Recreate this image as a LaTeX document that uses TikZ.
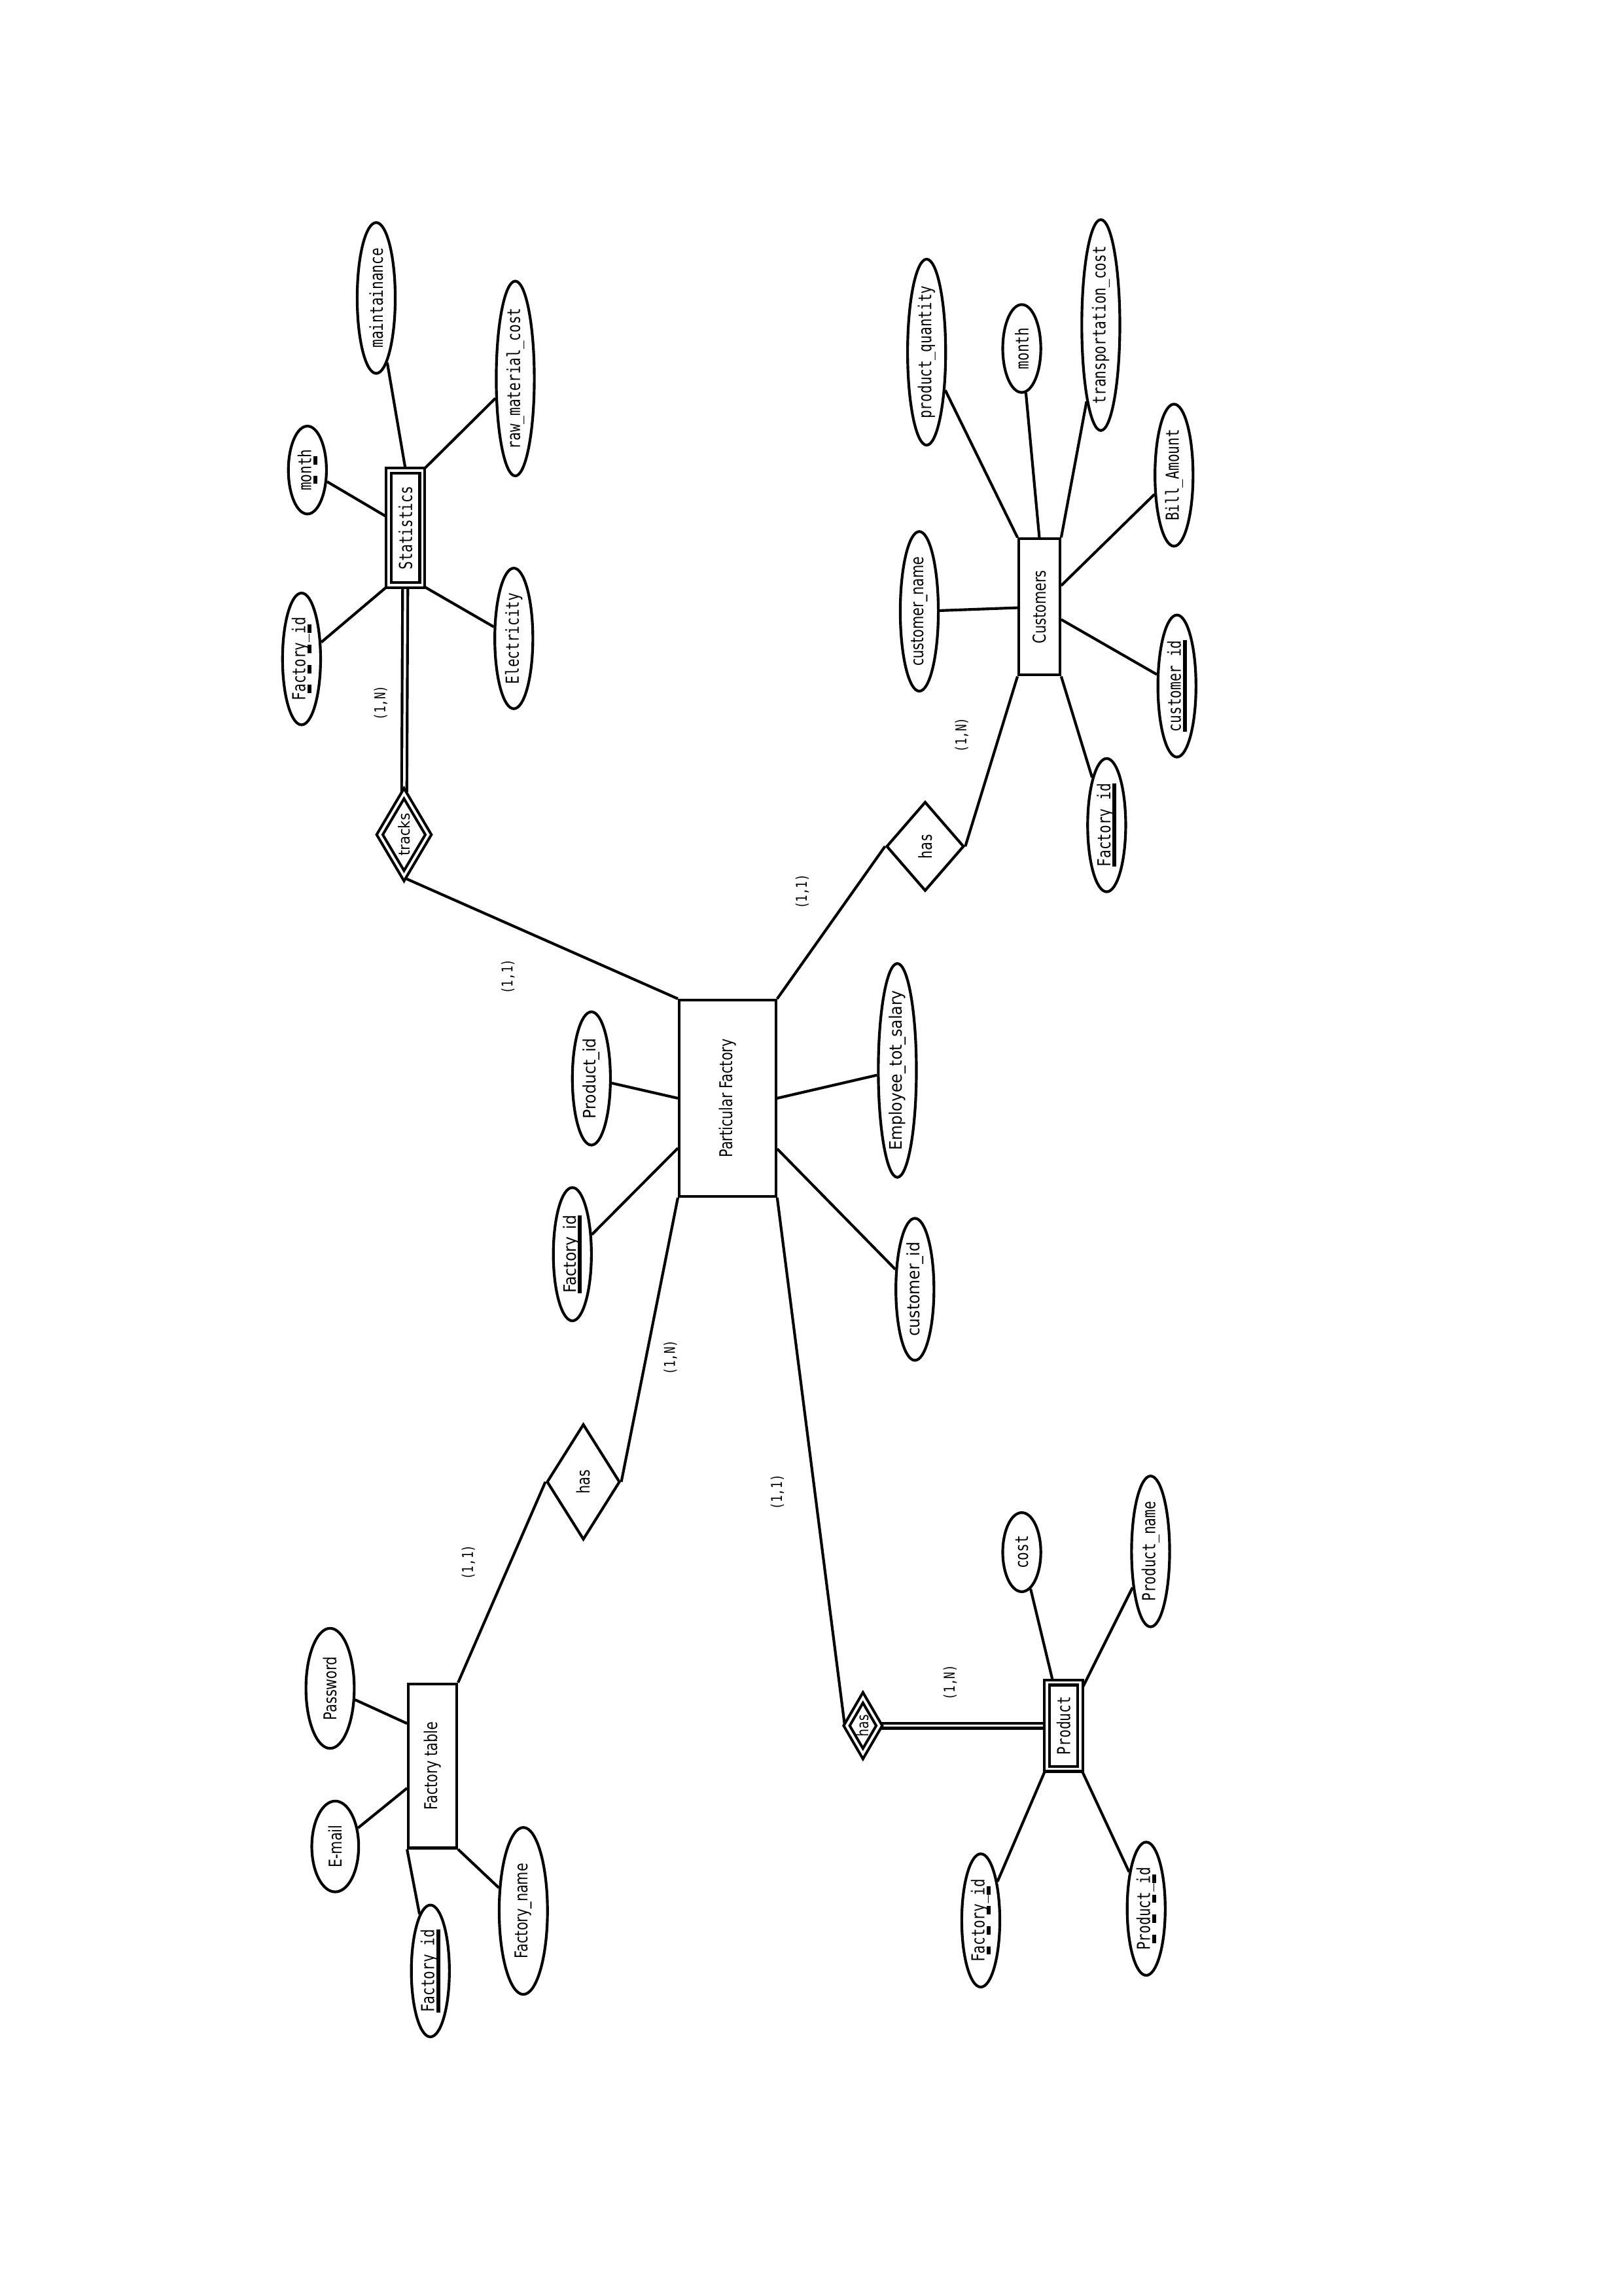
\documentclass[tikz,border=0pt]{standalone}
\usepackage{fontspec}
\usetikzlibrary{shapes.geometric, backgrounds}
\newfontfamily\monof[FakeStretch=0.77]{DejaVu Sans Mono}
\newfontfamily\condf[FakeStretch=0.77]{DejaVu Sans}
\newfontfamily\widef[FakeStretch=0.9]{DejaVu Sans}
\newsavebox\ulbox
\newcommand{\vtext}[1]{\rotatebox{90}{#1}}
\newcommand{\keyul}[1]{\sbox\ulbox{#1}\usebox\ulbox
  \llap{\vrule width \wd\ulbox height -0.12em depth 0.34em}}
\newcommand{\pkeyul}[1]{\sbox\ulbox{#1}\usebox\ulbox
  \llap{\hbox to \wd\ulbox{\xleaders\hbox to .94em{\hss\vrule height -0.12em depth 0.34em width .47em\hss}\hfill}}}
\tikzset{
  sz/.style 2 args={minimum width=#1*0.18936mm, minimum height=#2*0.18936mm},
  attr/.style={
    ellipse, draw, line width=1pt, inner sep=-20pt,
    font=\monof\fontsize{6.6}{7}\selectfont
  },
  ent/.style={
    rectangle, draw, line width=1pt, inner sep=-20pt,
    font=\monof\fontsize{6.6}{7}\selectfont
  },
  went/.style={ent, double, double distance=0.9pt},
  rel/.style={
    diamond, draw, line width=1pt, inner sep=-20pt,
    font=\monof\fontsize{6.6}{7}\selectfont
  },
  wrel/.style={rel, double, double distance=0.9pt},
  cond/.style={font=\condf\fontsize{6.5}{7}\selectfont},
  wide/.style={font=\widef\fontsize{6.3}{7}\selectfont},
  card/.style={inner sep=0pt, font=\monof\fontsize{5.5}{6}\selectfont},
  link/.style={line width=1pt},
  dlink/.style={line width=1pt, double, double distance=0.9pt}
}

\begin{document}
\begin{tikzpicture}[x=0.018936cm, y=-0.018936cm]
\useasboundingbox (0,0) rectangle (1109,1568);

\begin{scope}
\clip (0,149) rectangle (1109,1568);

% Statistics (weak entity)
\node[went, sz={23}{78}] (stat) at (277,360.5) {\vtext{Statistics}};
\node[wrel, sz={34}{57}, font=\widef\fontsize{5.7}{6}\selectfont] (tracks) at (276,570) {\vtext{tracks}};
\node[attr, sz={26}{103}] (maint) at (257,203.5) {\vtext{maintainance}};
\node[attr, sz={26}{133}] (rawcost) at (352,258.5) {\vtext{raw\_material\_cost}};
\node[attr, sz={26}{60}] (smonth) at (210,321) {\vtext{\pkeyul{month}}};
\node[attr, sz={26}{90}] (sfid) at (206,450) {\vtext{\pkeyul{Factory\_id}}};
\node[attr, sz={26}{96}] (elec) at (351,436) {\vtext{Electricity}};

% Customers
\node[ent, cond, sz={28}{93}] (cust) at (710,414.5) {\vtext{Customers}};
\node[rel, sz={53}{61}] (chas) at (632,578) {\vtext{has}};
\node[attr, sz={26}{127}] (pqty) at (633,240.5) {\vtext{product\_quantity}};
\node[attr, sz={26}{60}] (cmonth) at (698,238) {\vtext{month}};
\node[attr, sz={26}{144}] (tcost) at (752,222) {\vtext{transportation\_cost}};
\node[attr, sz={26}{97}] (bill) at (802,324.5) {\vtext{Bill\_Amount}};
\node[attr, sz={26}{97}] (ccid) at (804,468.5) {\vtext{\keyul{customer\_id}}};
\node[attr, sz={26}{91}] (cfid) at (756,563.5) {\vtext{\keyul{Factory\_id}}};
\node[attr, cond, sz={26}{109}] (cname) at (628,417.5) {\vtext{customer\_name}};

% Particular Factory
\node[ent, cond, sz={66}{134}] (pf) at (497,750) {\vtext{Particular Factory}};
\node[attr, wide, sz={26}{91}] (pfpid) at (404,736.5) {\vtext{Product\_id}};
\node[attr, wide, sz={26}{91}] (pffid) at (391,856.5) {\vtext{\keyul{Factory\_id}}};
\node[attr, wide, sz={26}{146}] (salary) at (613,731) {\vtext{Employee\_tot\_salary}};
\node[attr, wide, sz={26}{97}] (pfcid) at (625,880.5) {\vtext{customer\_id}};

% Factory table
\node[rel, cond, sz={50}{79}] (fhas) at (398.5,1012) {\vtext{has}};
\node[ent, cond, sz={33}{112}] (ftab) at (295.5,1206) {\vtext{Factory table}};
\node[attr, cond, sz={33}{82}] (pwd) at (225.5,1153) {\vtext{Password}};
\node[attr, cond, sz={32}{62}] (email) at (229,1261) {\vtext{E-mail}};
\node[attr, sz={26}{90}] (ftfid) at (294,1346) {\vtext{\keyul{Factory\_id}}};
\node[attr, cond, sz={33}{114}] (fname) at (357.5,1305) {\vtext{Factory\_name}};

% Product (weak entity)
\node[wrel, sz={23}{39}, font=\condf\fontsize{5.8}{6}\selectfont] (phas) at (589.5,1178.5) {\vtext{has}};
\node[went, sz={23}{59}] (prod) at (726.5,1178.5) {\vtext{Product}};
\node[attr, sz={26}{54}] (cost) at (698,1060) {\vtext{cost}};
\node[attr, sz={26}{103}] (pname) at (786,1059.5) {\vtext{Product\_name}};
\node[attr, sz={26}{91}] (pfid) at (670,1311.5) {\vtext{\pkeyul{Factory\_id}}};
\node[attr, sz={26}{91}] (ppid) at (783,1303.5) {\vtext{\pkeyul{Product\_id}}};

% Cardinalities
\node[card] (c1) at (260,480) {\vtext{(1,N)}};
\node[card] (c2) at (347,667) {\vtext{(1,1)}};
\node[card] (c3) at (657,502) {\vtext{(1,N)}};
\node[card] (c4) at (548,609) {\vtext{(1,1)}};
\node[card] (c5) at (458,927) {\vtext{(1,N)}};
\node[card] (c6) at (320,1067) {\vtext{(1,1)}};
\node[card] (c7) at (531,1019) {\vtext{(1,1)}};
\node[card] (c8) at (649,1149) {\vtext{(1,N)}};
\end{scope}

\begin{scope}[on background layer]
% Statistics links
\draw[dlink] (stat) -- (tracks);
\draw[link] (tracks.south) -- (pf.north west);
\draw[link] (maint) -- (stat.north);
\draw[link] (rawcost) -- (stat.north east);
\draw[link] (smonth) -- (stat);
\draw[link] (sfid) -- (stat.south west);
\draw[link] (elec) -- (stat.south east);

% Customers links
\draw[link] (pqty) -- (cust.north west);
\draw[link] (cmonth) -- (cust.north);
\draw[link] (tcost) -- (cust.north east);
\draw[link] (bill) -- (cust);
\draw[link] (ccid) -- (cust);
\draw[link] (cfid) -- (cust.south east);
\draw[link] (cname) -- (cust);
\draw[link] (chas.east) -- (cust.south west);
\draw[link] (chas.west) -- (pf.north east);

% Particular Factory links
\draw[link] (pfpid) -- (pf.west);
\draw[link] (pffid) -- (pf);
\draw[link] (salary) -- (pf.east);
\draw[link] (pfcid) -- (pf);
\draw[link] (fhas.east) -- (pf.south west);
\draw[link] (fhas.west) -- (ftab.north east);
\draw[link] (pf.south east) -- (phas.west);
\draw[dlink] (phas.east) -- (prod.west);

% Factory table links
\draw[link] (pwd) -- (ftab.121);
\draw[link] (email) -- (ftab.221);
\draw[link] (ftfid) -- (ftab.south west);
\draw[link] (fname) -- (ftab.south east);

% Product links
\draw[link] (cost) -- (prod);
\draw[link] (pname) -- (prod);
\draw[link] (pfid) -- (prod.south west);
\draw[link] (ppid) -- (prod.south east);
\end{scope}

\end{tikzpicture}
\end{document}
